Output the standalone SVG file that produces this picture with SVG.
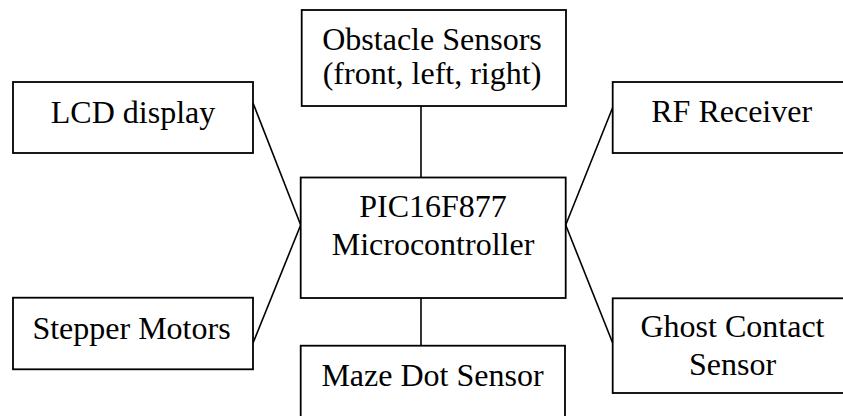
<svg xmlns="http://www.w3.org/2000/svg" width="843" height="416" viewBox="0 0 843 416">
<style>
.box{fill:#fff;stroke:#000;stroke-width:1.8}
.t{font-family:"Liberation Serif","Times New Roman",serif;font-size:32px;fill:#000;text-anchor:middle}
.c{stroke:#000;stroke-width:1.6;fill:none}
</style>
<rect width="843" height="416" fill="#fff"/>
<g id="connectors">
<line class="c" x1="421" y1="106" x2="421" y2="177.5"/>
<line class="c" x1="421" y1="298" x2="421" y2="345.5"/>
<line class="c" x1="253" y1="103" x2="300.7" y2="225"/>
<line class="c" x1="253" y1="343" x2="300.7" y2="225"/>
<line class="c" x1="612.7" y1="107.5" x2="565.7" y2="225"/>
<line class="c" x1="612.7" y1="343" x2="565.7" y2="225"/>
</g>
<g id="obstacle">
<rect class="box" x="301.7" y="10" width="264.3" height="96"/>
<text class="t" x="432" y="49.5">Obstacle Sensors</text>
<text class="t" x="432" y="84">(front, left, right)</text>
</g>
<g id="lcd">
<rect class="box" x="13" y="82" width="240" height="71"/>
<text class="t" x="133" y="122.5">LCD display</text>
</g>
<g id="rf">
<rect class="box" x="612.7" y="82" width="240" height="71"/>
<text class="t" x="731.7" y="122">RF Receiver</text>
</g>
<g id="micro">
<rect class="box" x="300.7" y="177.5" width="265" height="120.5"/>
<text class="t" x="433" y="216.5">PIC16F877</text>
<text class="t" x="433" y="254.5">Microcontroller</text>
</g>
<g id="stepper">
<rect class="box" x="13" y="297.7" width="240" height="71.6"/>
<text class="t" x="131.5" y="338.5">Stepper Motors</text>
</g>
<g id="ghost">
<rect class="box" x="612.7" y="298.3" width="240" height="94.7"/>
<text class="t" x="732.5" y="337">Ghost Contact</text>
<text class="t" x="732.5" y="374.5">Sensor</text>
</g>
<g id="maze">
<rect class="box" x="300.7" y="345.7" width="264.3" height="80"/>
<text class="t" x="432.5" y="385.5">Maze Dot Sensor</text>
</g>
</svg>
